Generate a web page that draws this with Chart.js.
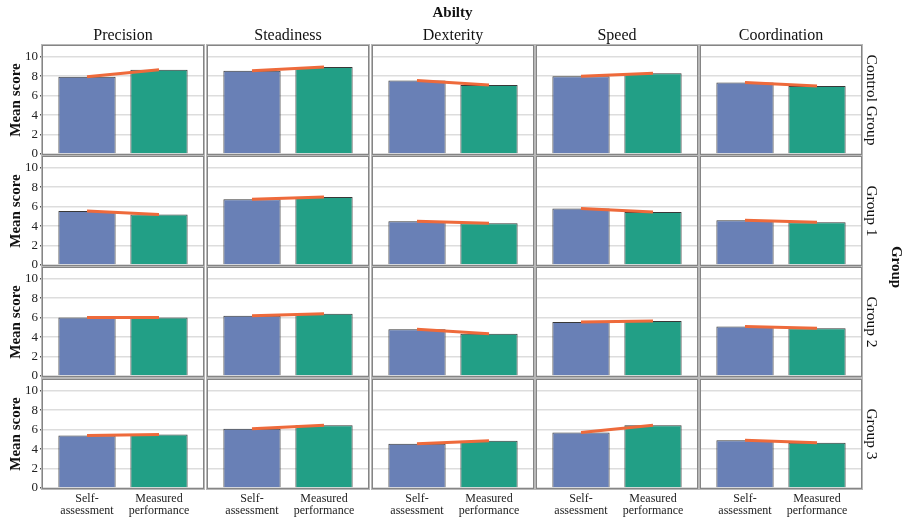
<!DOCTYPE html>
<html><head><meta charset="utf-8">
<script src="https://cdn.jsdelivr.net/npm/chart.js@4/dist/chart.umd.min.js"></script>
<style>
html,body{margin:0;padding:0;background:#fff}
body{width:905px;height:519px;overflow:hidden;position:relative;font-family:"Liberation Serif","Times New Roman",serif;color:#111}
canvas{position:absolute}
.t{position:absolute;white-space:nowrap;line-height:1;transform-origin:center center}
</style></head><body>
<script>
// ---- data ----
const abilities = ['Precision','Steadiness','Dexterity','Speed','Coordination'];
const groups = ['Control Group','Group 1','Group 2','Group 3'];
const measures = [['Self-','assessment'],['Measured','performance']];
const yTicks = [0,2,4,6,8,10];
// mean scores, rows = groups, columns = abilities
const selfAssessment = [
  [7.95, 8.55, 7.55, 8.0, 7.35],
  [5.55, 6.75, 4.5, 5.8, 4.6],
  [6.0, 6.2, 4.8, 5.55, 5.1],
  [5.4, 6.1, 4.55, 5.7, 4.9]
];
const measuredPerformance = [
  [8.65, 8.95, 7.1, 8.3, 7.0],
  [5.2, 7.0, 4.3, 5.45, 4.4],
  [6.0, 6.4, 4.35, 5.65, 4.9],
  [5.5, 6.45, 4.85, 6.45, 4.65]
];

// ---- layout / style ----
const FONT = '"Liberation Serif","Times New Roman",serif';
const BLUE = '#6980b6', GREEN = '#229f86', ORANGE = '#ee6a3b';
const colLeft = [43,208,373,537,701];
const rowTop = [46,157,268,380];
const PW = 160, PH = 108, YAXW = 43, PADT = 10, PADB = 10, PADX = 4, XAXH = 31;

function addText(txt, cx, cy, size, bold, rot){
  const d = document.createElement('div');
  d.className = 't';
  d.textContent = txt;
  d.style.left = cx + 'px';
  d.style.top = cy + 'px';
  d.style.fontSize = size + 'px';
  d.style.fontWeight = bold ? 'bold' : 'normal';
  d.style.transform = 'translate(-50%,-50%)' + (rot ? ' rotate(' + rot + 'deg)' : '');
  document.body.appendChild(d);
}

const framePlugin = {
  id: 'frame',
  afterDraw(c){
    const a = c.chartArea, ctx = c.ctx;
    ctx.save();
    ctx.lineWidth = 1;
    ctx.strokeStyle = '#b8b8b8';
    ctx.strokeRect(a.left - 1.5, a.top - 1.5, a.width + 3, a.height + 3);
    ctx.strokeStyle = '#858585';
    ctx.strokeRect(a.left - 0.5, a.top - 0.5, a.width + 1, a.height + 1);
    ctx.restore();
  }
};

groups.forEach((g, r) => {
  abilities.forEach((ab, c) => {
    const first = c === 0, last = r === groups.length - 1;
    const cv = document.createElement('canvas');
    const padL = first ? YAXW : PADX;
    const w = PW + padL + PADX;
    const h = PH + PADT + (last ? XAXH : PADB);
    cv.width = w; cv.height = h;
    cv.style.width = w + 'px'; cv.style.height = h + 'px';
    cv.style.left = (colLeft[c] - padL) + 'px';
    cv.style.top = (rowTop[r] - PADT) + 'px';
    document.body.appendChild(cv);
    const s = selfAssessment[r][c], m = measuredPerformance[r][c];
    new Chart(cv, {
      type: 'bar',
      data: {
        datasets: [
          {type:'line', data:[{x:0,y:s},{x:1,y:m}], borderColor:ORANGE, borderWidth:3,
           pointRadius:0, order:0, borderCapStyle:'butt', tension:0},
          {type:'bar', data:[{x:0,y:s},{x:1,y:m}], backgroundColor:[BLUE,GREEN],
           borderColor:'#383838', borderWidth:1, categoryPercentage:1, barPercentage:0.795, order:1}
        ]
      },
      options: {
        responsive:false, animation:false, devicePixelRatio:1,
        layout:{padding:{top:PADT, bottom:last ? 0 : PADB, left:first ? 0 : PADX, right:PADX}},
        plugins:{legend:{display:false}, tooltip:{enabled:false}},
        scales:{
          x:{type:'linear', min:-0.611, max:1.611, offset:false, bounds:'data', display:last,
             grid:{display:false, drawTicks:false, offset:false}, border:{display:false},
             afterBuildTicks: sc => { sc.ticks = [{value:0},{value:1}]; },
             afterFit: sc => { sc.height = last ? XAXH : 0; },
             ticks:{font:{family:FONT, size:12, lineHeight:1.0}, color:'#222', padding:5,
                    autoSkip:false, maxRotation:0, minRotation:0,
                    callback: v => measures[v]}},
          y:{min:0, max:11.1, display:true, border:{display:false},
             afterBuildTicks: sc => { sc.ticks = yTicks.map(v => ({value:v})); },
             afterFit: sc => { sc.width = first ? YAXW : 0; },
             grid:{color:'#dddddd', lineWidth:1.5, drawTicks:first, tickLength:3, tickColor:'#555'},
             ticks:{display:first, autoSkip:false, font:{family:FONT, size:13}, color:'#222', padding:2}}
        }
      },
      plugins:[framePlugin]
    });
  });
});

// ---- texts ----
addText('Abilty', 452.5, 12, 15, true, 0);
abilities.forEach((ab, c) => addText(ab, colLeft[c] + PW/2, 35, 16, false, 0));
groups.forEach((g, r) => {
  addText('Mean score', 15, rowTop[r] + PH/2, 15, true, -90);
  addText(g, 872, rowTop[r] + PH/2, 15.5, false, 90);
});
addText('Group', 896, 267, 15, true, 90);
</script>
</body></html>
